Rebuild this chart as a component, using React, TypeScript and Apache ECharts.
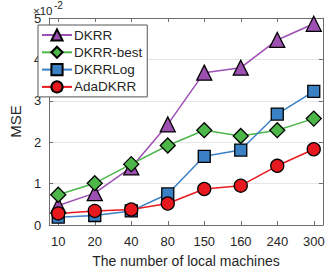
import React, { useEffect, useRef } from "react";
import * as echarts from "echarts";

const categories = ["10", "20", "40", "80", "150", "160", "240", "300"];
const dkrr = [0.47, 0.77, 1.39, 2.43, 3.68, 3.8, 4.47, 4.86];
const dkrrBest = [0.73, 1.01, 1.47, 1.92, 2.29, 2.15, 2.29, 2.57];
const dkrrLog = [0.19, 0.23, 0.34, 0.75, 1.66, 1.81, 2.68, 3.23];
const adaDkrr = [0.28, 0.34, 0.375, 0.52, 0.87, 0.95, 1.43, 1.83];
const yTicks = [0, 1, 2, 3, 4, 5];

const FONT = "Liberation Sans, Arial, sans-serif";
const AX = "#6e6e6e";
const TXT = "#262626";

function toPts(vals: number[]) {
  return vals.map((v, i) => [i + 1, v]);
}

export default function App() {
  const ref = useRef<HTMLDivElement>(null);
  useEffect(() => {
    const chart = echarts.init(ref.current!, null, { renderer: "svg" });
    const idx = categories.map((_, i) => i + 1);
    const mk = (name: string, data: number[], color: string, symbol: string, size: number) => ({
      name,
      type: "line",
      data: toPts(data),
      symbol,
      symbolSize: size,
      lineStyle: { color, width: 1.5 },
      itemStyle: { color, borderColor: "#000", borderWidth: 1.3 },
      z: 3,
    });
    chart.setOption({
      animation: false,
      textStyle: { fontFamily: FONT },
      grid: { left: 31, right: 3, top: 18, bottom: 41, containLabel: false },
      legend: {
        left: 38,
        top: 25,
        orient: "vertical",
        backgroundColor: "#fff",
        borderColor: "#555",
        borderWidth: 1,
        borderRadius: 0,
        padding: [3, 5, 3, 3],
        itemGap: 3.3,
        itemWidth: 30,
        itemHeight: 14,
        textStyle: { fontSize: 13.5, color: TXT, fontFamily: FONT, padding: [0, 0, 0, -3] },
        data: ["DKRR", "DKRR-best", "DKRRLog", "AdaDKRR"],
      },
      xAxis: [
        {
          type: "value",
          min: 0.75,
          max: 8.25,
          name: "The number of local machines",
          nameLocation: "middle",
          nameGap: 29,
          nameTextStyle: { fontSize: 14, color: TXT, fontFamily: FONT },
          axisLine: { onZero: false, lineStyle: { color: AX, width: 1 } },
          axisTick: { inside: true, length: 4, customValues: idx, lineStyle: { color: AX } },
          axisLabel: {
            customValues: idx,
            formatter: (v: number) => categories[Math.round(v) - 1] ?? "",
            fontSize: 13,
            color: TXT,
            margin: 10,
            fontFamily: FONT,
          },
          splitLine: { show: false },
        },
        {
          type: "value",
          position: "top",
          min: 0.75,
          max: 8.25,
          axisLine: { onZero: false, lineStyle: { color: AX, width: 1 } },
          axisTick: { inside: true, length: 4, customValues: idx, lineStyle: { color: AX } },
          axisLabel: { show: false },
          splitLine: { show: false },
        },
      ],
      yAxis: [
        {
          type: "value",
          min: 0,
          max: 5,
          interval: 1,
          name: "MSE",
          nameLocation: "middle",
          nameGap: 21,
          nameTextStyle: { fontSize: 15, color: TXT, fontFamily: FONT },
          axisLine: { show: true, onZero: false, lineStyle: { color: AX, width: 1 } },
          axisTick: { show: true, inside: true, length: 4, lineStyle: { color: AX } },
          axisLabel: {
            fontSize: 13,
            color: TXT,
            margin: 8,
            fontFamily: FONT,
            formatter: (v: number) => (yTicks.includes(v) ? String(v) : ""),
          },
          splitLine: { show: true, lineStyle: { color: "#e6e6e6", width: 1 } },
        },
        {
          type: "value",
          position: "right",
          min: 0,
          max: 5,
          interval: 1,
          axisLine: { show: true, onZero: false, lineStyle: { color: AX, width: 1 } },
          axisTick: { show: true, inside: true, length: 4, lineStyle: { color: AX } },
          axisLabel: { show: false },
          splitLine: { show: false },
        },
      ],
      graphic: [
        {
          type: "text",
          left: 33,
          top: 5,
          style: { text: "×10", fontSize: 11.5, fill: TXT, fontFamily: FONT },
        },
        {
          type: "text",
          left: 54,
          top: 0,
          style: { text: "-2", fontSize: 10, fill: TXT, fontFamily: FONT },
        },
      ],
      series: [
        mk("DKRR", dkrr, "#9d4fb2", "triangle", 15),
        mk("DKRR-best", dkrrBest, "#4cb748", "diamond", 15),
        mk("DKRRLog", dkrrLog, "#3a80c4", "rect", 12),
        mk("AdaDKRR", adaDkrr, "#e8191e", "circle", 13),
      ],
    });
    return () => chart.dispose();
  }, []);
  return <div ref={ref} style={{ width: 327, height: 273, position: "absolute", left: 0, top: 0 }} />;
}
